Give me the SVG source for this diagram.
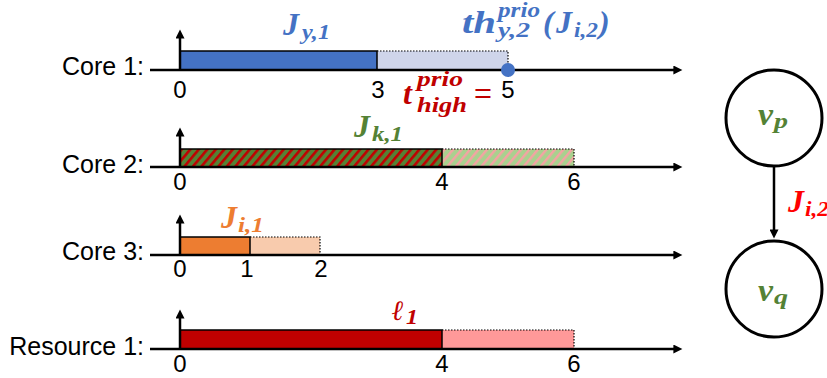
<svg xmlns="http://www.w3.org/2000/svg" width="827" height="378" viewBox="0 0 827 378">
<style>
.lbl{font-family:"Liberation Sans",Arial,sans-serif;font-size:25px;fill:#000;text-anchor:end}
.num{font-family:"Liberation Sans",Arial,sans-serif;font-size:24px;fill:#000;text-anchor:middle}
.m{font-family:"Liberation Serif","Times New Roman",serif;font-weight:bold;font-style:italic}
.big{font-size:32px}
.sub{font-size:20px}
.axis{stroke:#000;stroke-width:2.5;fill:none}
.bar{stroke:#000;stroke-width:1.5}
.dot{stroke:#000;stroke-width:1.2;stroke-dasharray:1.5 1.5;fill:none}
.node{fill:#fff;stroke:#000;stroke-width:3}
</style>
<defs>
<marker id="ah" viewBox="0 0 10 10" refX="4" refY="5" markerWidth="10" markerHeight="9" markerUnits="userSpaceOnUse" orient="auto"><path d="M0,0 L10,5 L0,10 z" fill="#000"/></marker>
<pattern id="stD" width="6.5" height="6.5" patternUnits="userSpaceOnUse" patternTransform="rotate(40)"><rect width="6.5" height="6.5" fill="#548235"/><rect width="2.6" height="6.5" fill="#C00000"/></pattern>
<pattern id="stL" width="6.5" height="6.5" patternUnits="userSpaceOnUse" patternTransform="rotate(40)"><rect width="6.5" height="6.5" fill="#A9D18E"/><rect width="2.4" height="6.5" fill="#F4A3A3"/></pattern>
</defs>

<g id="core1">
<rect x="377" y="51" width="131" height="19" fill="#CFD5EA"/>
<path class="dot" d="M377,51 H508 V70"/>
<rect class="bar" x="180" y="51" width="197" height="19" fill="#4472C4"/>
<line class="axis" x1="150" y1="70" x2="677" y2="70" marker-end="url(#ah)"/>
<line class="axis" x1="180" y1="70" x2="180" y2="35" marker-end="url(#ah)"/>
<circle cx="508" cy="70" r="7" fill="#4472C4"/>
<text class="lbl" x="144" y="75">Core 1:</text>
<text class="num" x="180" y="98">0</text>
<text class="num" x="378" y="98">3</text>
<text class="m" fill="#4472C4"><tspan class="big" x="283" y="35">J</tspan><tspan class="sub" x="302" y="39" textLength="28" lengthAdjust="spacingAndGlyphs">y,1</tspan></text>
<text class="m" fill="#4472C4"><tspan class="big" x="462" y="33" textLength="34" lengthAdjust="spacingAndGlyphs">th</tspan><tspan class="sub" x="498" y="17" textLength="42" lengthAdjust="spacingAndGlyphs">prio</tspan><tspan class="sub" x="498" y="37" textLength="32" lengthAdjust="spacingAndGlyphs">y,2</tspan><tspan class="big" x="543" y="33">(</tspan><tspan class="big" x="556" y="33">J</tspan><tspan class="sub" x="574" y="37" textLength="24" lengthAdjust="spacingAndGlyphs">i,2</tspan><tspan class="big" x="599" y="33">)</tspan></text>
<text class="m" fill="#C00000"><tspan class="big" x="403" y="104">t</tspan><tspan class="sub" x="417" y="86" textLength="46" lengthAdjust="spacingAndGlyphs">prio</tspan><tspan class="sub" x="417" y="112" textLength="50" lengthAdjust="spacingAndGlyphs">high</tspan></text>
<text x="474" y="103" font-family="Liberation Sans,Arial,sans-serif" font-size="28" fill="#C00000" textLength="18" lengthAdjust="spacingAndGlyphs">=</text>
<text class="num" x="508" y="98" fill="#C00000">5</text>
</g>

<g id="core2">
<rect x="442" y="149" width="132" height="18" fill="url(#stL)"/>
<path class="dot" d="M442,149 H574 V167"/>
<rect class="bar" x="180" y="149" width="262" height="18" fill="url(#stD)"/>
<line class="axis" x1="150" y1="167" x2="677" y2="167" marker-end="url(#ah)"/>
<line class="axis" x1="180" y1="167" x2="180" y2="133" marker-end="url(#ah)"/>
<text class="lbl" x="144" y="173">Core 2:</text>
<text class="num" x="180" y="190">0</text>
<text class="num" x="442" y="190">4</text>
<text class="num" x="574" y="190">6</text>
<text class="m" fill="#548235"><tspan class="big" x="354" y="137">J</tspan><tspan class="sub" x="372" y="141" textLength="31" lengthAdjust="spacingAndGlyphs">k,1</tspan></text>
</g>

<g id="core3">
<rect x="250" y="237" width="70" height="18" fill="#F8CBAD"/>
<path class="dot" d="M250,237 H320 V255"/>
<rect class="bar" x="180" y="237" width="70" height="18" fill="#ED7D31"/>
<line class="axis" x1="150" y1="255" x2="677" y2="255" marker-end="url(#ah)"/>
<line class="axis" x1="180" y1="255" x2="180" y2="220" marker-end="url(#ah)"/>
<text class="lbl" x="144" y="260">Core 3:</text>
<text class="num" x="180" y="277">0</text>
<text class="num" x="247" y="277">1</text>
<text class="num" x="321" y="277">2</text>
<text class="m" fill="#ED7D31"><tspan class="big" x="221" y="228">J</tspan><tspan class="sub" x="238" y="232" textLength="26" lengthAdjust="spacingAndGlyphs">i,1</tspan></text>
</g>

<g id="resource1">
<rect x="442" y="330" width="132" height="19" fill="#FF9999"/>
<path class="dot" d="M442,330 H574 V349"/>
<rect class="bar" x="180" y="330" width="262" height="19" fill="#C00000"/>
<line class="axis" x1="150" y1="349" x2="677" y2="349" marker-end="url(#ah)"/>
<line class="axis" x1="180" y1="349" x2="180" y2="315" marker-end="url(#ah)"/>
<text class="lbl" x="144" y="355">Resource 1:</text>
<text class="num" x="180" y="372">0</text>
<text class="num" x="442" y="372">4</text>
<text class="num" x="574" y="372">6</text>
<text class="m" fill="#C00000"><tspan x="392" y="320" font-size="28">ℓ</tspan><tspan class="sub" x="406" y="324" textLength="12" lengthAdjust="spacingAndGlyphs">1</tspan></text>
</g>

<g id="connectors">
<line x1="774" y1="166" x2="774" y2="233" stroke="#000" stroke-width="2.5" marker-end="url(#ah)"/>
<text class="m" fill="#FF0000"><tspan class="big" x="788" y="212">J</tspan><tspan class="sub" x="805" y="216" textLength="24" lengthAdjust="spacingAndGlyphs">i,2</tspan></text>
</g>

<g id="vp">
<circle class="node" cx="774" cy="118" r="48"/>
<text class="m" fill="#548235"><tspan font-size="32" x="758" y="125" textLength="15" lengthAdjust="spacingAndGlyphs">v</tspan><tspan font-size="20" x="774" y="128" textLength="14" lengthAdjust="spacingAndGlyphs">p</tspan></text>
</g>

<g id="vq">
<circle class="node" cx="774" cy="289" r="48"/>
<text class="m" fill="#548235"><tspan font-size="32" x="758" y="301" textLength="15" lengthAdjust="spacingAndGlyphs">v</tspan><tspan font-size="20" x="774" y="304" textLength="14" lengthAdjust="spacingAndGlyphs">q</tspan></text>
</g>
</svg>
